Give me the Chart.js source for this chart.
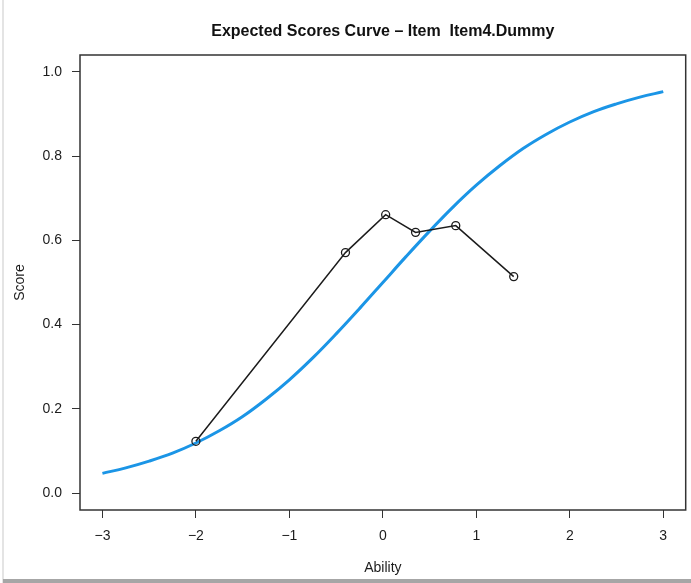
<!DOCTYPE html>
<html>
<head>
<meta charset="utf-8">
<script src="https://cdn.jsdelivr.net/npm/chart.js@4/dist/chart.umd.min.js"></script>
<style>
  body { margin: 0; background: #fff; }
  #wrap { position: relative; width: 691px; height: 583px; }
  .edge-left { position: absolute; left: 2px; top: 0; width: 2px; height: 583px; background: #e4e4e4; }
  .edge-bottom { position: absolute; left: 3px; top: 579px; width: 688px; height: 4px; background: #a6a6a6; }
</style>
</head>
<body>
<div id="wrap">
  <canvas id="chart" width="691" height="583"></canvas>
  <div class="edge-left"></div>
  <div class="edge-bottom"></div>
</div>
<script>
// expected score curve (blue)
var curveAbility = [-3, -2.75, -2.5, -2.25, -2, -1.75, -1.5, -1.25, -1, -0.75, -0.5, -0.25, 0,
                    0.25, 0.5, 0.75, 1, 1.25, 1.5, 1.75, 2, 2.25, 2.5, 2.75, 3];
var curveScore = [0.047, 0.060, 0.076, 0.095, 0.119, 0.148, 0.182, 0.223, 0.269, 0.321, 0.378, 0.438, 0.500,
                  0.562, 0.622, 0.679, 0.731, 0.777, 0.818, 0.852, 0.881, 0.905, 0.924, 0.940, 0.953];

// observed group means (black)
var obsAbility = [-2, -0.4, 0.03, 0.35, 0.78, 1.4];
var obsScore = [0.123, 0.571, 0.661, 0.619, 0.635, 0.514];

var xTicks = [-3, -2, -1, 0, 1, 2, 3];
var xTickLabels = ['\u22123', '\u22122', '\u22121', '0', '1', '2', '3'];
var yTicks = [0, 0.2, 0.4, 0.6, 0.8, 1.0];
var yTickLabels = ['0.0', '0.2', '0.4', '0.6', '0.8', '1.0'];

var TITLE = 'Expected Scores Curve \u2013 Item  Item4.Dummy';
var FONT = '"Liberation Sans", Arial, sans-serif';
var INK = '#1c1c1c';

function toPoints(xs, ys) {
    return xs.map(function (x, i) { return { x: x, y: ys[i] }; });
}

// frame round the plot area + title centred over it (like R's main=)
var boxPlugin = {
    id: 'box',
    afterDraw: function (chart) {
        var a = chart.chartArea, ctx = chart.ctx;
        ctx.save();
        ctx.strokeStyle = '#333';
        ctx.lineWidth = 1.5;
        ctx.strokeRect(a.left, a.top, a.right - a.left, a.bottom - a.top);
        ctx.fillStyle = '#111';
        ctx.font = 'bold 16px ' + FONT;
        ctx.textAlign = 'center';
        ctx.textBaseline = 'middle';
        ctx.fillText(TITLE, (a.left + a.right) / 2, 32);
        ctx.restore();
    }
};

var chart = new Chart(document.getElementById('chart'), {
    type: 'scatter',
    data: {
        datasets: [{
            label: 'observed',
            data: toPoints(obsAbility, obsScore),
            showLine: true,
            tension: 0,
            borderColor: INK,
            borderWidth: 1.5,
            pointRadius: 4,
            pointBorderWidth: 1.3,
            pointBorderColor: INK,
            pointBackgroundColor: 'rgba(0,0,0,0)'
        }, {
            label: 'expected',
            data: toPoints(curveAbility, curveScore),
            showLine: true,
            tension: 0.4,
            borderColor: '#1b95e6',
            borderWidth: 3,
            pointRadius: 0
        }]
    },
    options: {
        responsive: false,
        animation: false,
        devicePixelRatio: 1,
        layout: { padding: { left: 0, right: 5, top: 55, bottom: 0 } },
        plugins: {
            legend: { display: false },
            tooltip: { enabled: false },
            title: { display: false }
        },
        scales: {
            x: {
                type: 'linear',
                min: -3.24,
                max: 3.24,
                afterBuildTicks: function (scale) {
                    scale.ticks = xTicks.map(function (v) { return { value: v }; });
                },
                afterFit: function (scale) { scale.height = 73; },
                grid: { display: true, drawOnChartArea: false, drawTicks: true, tickLength: 8, color: '#333', lineWidth: 1 },
                border: { display: false },
                ticks: {
                    autoSkip: false,
                    maxRotation: 0,
                    padding: 10,
                    color: INK,
                    font: { family: FONT, size: 14 },
                    callback: function (v, i) { return xTickLabels[i]; }
                },
                title: {
                    display: true,
                    text: 'Ability',
                    color: INK,
                    font: { family: FONT, size: 14 },
                    padding: { top: 0, bottom: 6 }
                }
            },
            y: {
                type: 'linear',
                min: -0.04,
                max: 1.04,
                afterBuildTicks: function (scale) {
                    scale.ticks = yTicks.map(function (v) { return { value: v }; });
                },
                afterFit: function (scale) { scale.width = 80; },
                grid: { display: true, drawOnChartArea: false, drawTicks: true, tickLength: 8, color: '#333', lineWidth: 1 },
                border: { display: false },
                ticks: {
                    autoSkip: false,
                    padding: 10,
                    color: INK,
                    font: { family: FONT, size: 14 },
                    callback: function (v, i) { return yTickLabels[i]; }
                },
                title: {
                    display: true,
                    text: 'Score',
                    color: INK,
                    font: { family: FONT, size: 14 },
                    padding: { top: 12, bottom: 0 }
                }
            }
        }
    },
    plugins: [boxPlugin]
});
</script>
</body>
</html>
